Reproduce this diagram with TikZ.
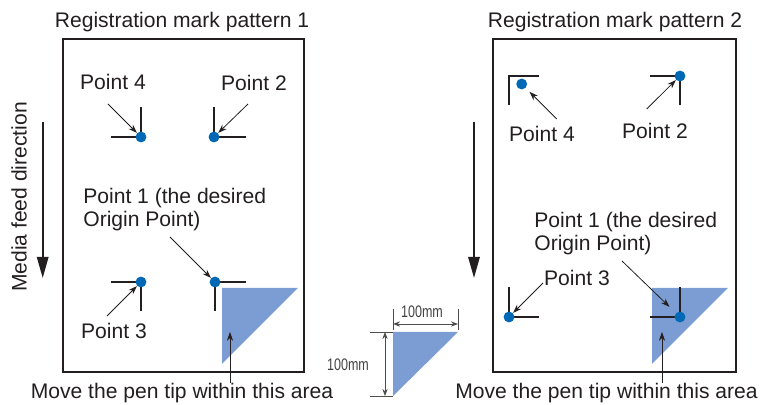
\documentclass[tikz,border=0pt]{standalone}
\usepackage{fontspec}
\setmainfont{Liberation Sans}
\usepackage{xcolor}
\usetikzlibrary{arrows.meta}
\definecolor{markblue}{HTML}{0068B5}
\definecolor{areablue}{HTML}{7B9DD3}
\definecolor{inkgray}{HTML}{231F20}
\tikzset{
 lbl/.style={text=inkgray,font=\fontsize{12}{13.6}\selectfont,inner sep=0pt},
 dimlbl/.style={text=inkgray!85,font=\fontsize{9.5}{10}\selectfont,inner sep=0pt,xscale=0.75},
 markline/.style={line width=1.2pt,inkgray},
 pointer/.style={-{Stealth[length=5pt,width=3.5pt]},line width=0.45pt,inkgray},
 regdot/.style={circle,fill=markblue,inner sep=0pt,minimum size=6.2pt},
 sheet/.style={draw=inkgray,line width=0.9pt},
 area/.style={fill=areablue},
 feedarrow/.style={-{Triangle[length=12pt,width=6.5pt]},line width=1.1pt,inkgray},
 dimline/.style={line width=0.5pt,inkgray!80},
 dimarrow/.style={{Stealth[length=4pt,width=3pt]}-{Stealth[length=4pt,width=3pt]},line width=0.5pt,inkgray!80}
}
\begin{document}
\begin{tikzpicture}[x=0.02cm,y=-0.02cm]
\useasboundingbox (0,0) rectangle (762,405);
% pattern 1
\draw[sheet](63,39) rectangle (304,372);
\node[lbl](title1) at (182,22) {Registration mark pattern 1};
\fill[area](222,288)--(298,288)--(222,364)--cycle;
\draw[markline](111,137)--(141,137)--(141,107)
(214,107)--(214,137)--(246,137)
(111,282)--(141,282)--(141,311)
(215,311)--(215,282)--(246,282);
\node[regdot](p4a) at (141,137) {};
\node[regdot](p2a) at (214,137) {};
\node[regdot](p3a) at (141,282) {};
\node[regdot](p1a) at (215,282) {};
\node[lbl](lp4a) at (113,82) {Point 4};
\node[lbl](lp2a) at (254,83) {Point 2};
\node[lbl](lp3a) at (114,331) {Point 3};
\node[lbl,align=left,anchor=west](lp1a) at (83,209.5) {Point 1 (the desired\\Origin Point)};
\coordinate (t4a) at (108,104);
\coordinate (t2a) at (248,104);
\coordinate (t3a) at (107,316);
\coordinate (t1a) at (170,237);
\draw[pointer](t4a)--(p4a);
\draw[pointer](t2a)--(p2a);
\draw[pointer](t3a)--(p3a);
\draw[pointer](t1a)--(p1a);
\node[lbl](move1) at (182,393) {Move the pen tip within this area};
\coordinate (area1) at (230,332);
\draw[pointer](move1.north -| area1)--(area1);
\node[lbl,rotate=90](feed) at (19,197) {Media feed direction};
\coordinate (feedtop1) at (42.7,122);
\coordinate (feedbot1) at (42.7,278);
\draw[feedarrow](feedtop1)--(feedbot1);
% 100mm sample
\fill[area](393,332)--(458,332)--(393,396)--cycle;
\draw[dimline](393,309)--(393,330)
(458,309)--(458,330)
(370,332)--(393,332)
(370,396)--(393,396);
\coordinate (dwl) at (393,324);
\coordinate (dwr) at (458,324);
\coordinate (dht) at (385,332);
\coordinate (dhb) at (385,396);
\draw[dimarrow](dwl)--(dwr);
\draw[dimarrow](dht)--(dhb);
\node[dimlbl](dimw) at (422,312) {100mm};
\node[dimlbl](dimh) at (348,365) {100mm};
% pattern 2
\draw[sheet](493,39) rectangle (736,372);
\node[lbl](title2) at (615,22) {Registration mark pattern 2};
\fill[area](652,288)--(728,288)--(652,364)--cycle;
\draw[markline](539,76)--(509,76)--(509,105)
(650,76)--(680,76)--(680,105)
(509,287)--(509,317)--(539,317)
(650,317)--(680,317)--(680,287);
\node[regdot](p4b) at (521.7,84) {};
\node[regdot](p2b) at (680,76) {};
\node[regdot](p3b) at (509,317) {};
\node[regdot](p1b) at (680,317) {};
\node[lbl](lp4b) at (542,134) {Point 4};
\node[lbl](lp2b) at (655,131) {Point 2};
\node[lbl](lp3b) at (577,278) {Point 3};
\node[lbl,align=left,anchor=west](lp1b) at (534,233.5) {Point 1 (the desired\\Origin Point)};
\coordinate (t4b) at (556.7,119);
\coordinate (t2b) at (646.7,109);
\coordinate (t3b) at (543,283);
\coordinate (t1b) at (622,261);
\draw[pointer,shorten >=3pt](t4b)--(p4b);
\draw[pointer](t2b)--(p2b);
\draw[pointer](t3b)--(p3b);
\draw[pointer,shorten >=5pt](t1b)--(p1b);
\node[lbl](move2) at (606.5,393) {Move the pen tip within this area};
\coordinate (area2) at (662,332);
\draw[pointer](move2.north -| area2)--(area2);
\coordinate (feedtop2) at (474,122);
\coordinate (feedbot2) at (474,278);
\draw[feedarrow](feedtop2)--(feedbot2);
\end{tikzpicture}
\end{document}
